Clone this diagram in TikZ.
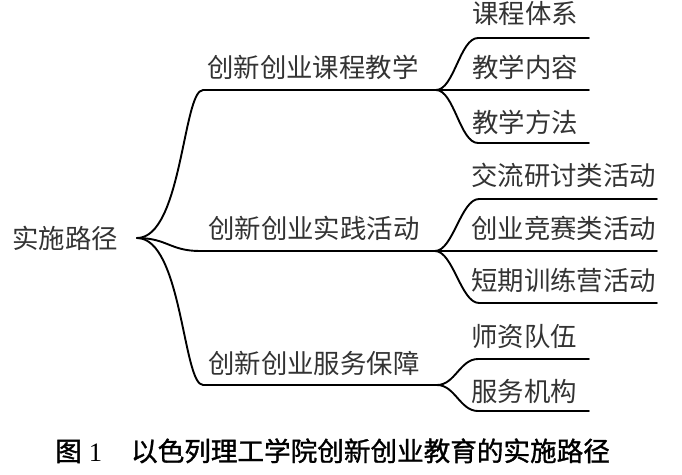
\documentclass[tikz,border=0pt]{standalone}
\usepackage{fontspec}
\setmainfont{Liberation Serif}
\newfontfamily\cjk{Noto Sans CJK SC}
\newfontfamily\cjkcap{Noto Sans CJK SC}[FakeBold=1.2]
\usetikzlibrary{positioning,calc}

\begin{document}
\begin{tikzpicture}[x=1pt,y=-1pt,
  every node/.style={inner sep=0pt, anchor=base west, text=black!80,
    font=\cjk\fontsize{26.4}{26.4}\selectfont},
  link/.style={line width=1.9pt, line cap=round}
]
  \useasboundingbox (0,0) rectangle (682,474);

  % root
  \node (root) at (12,248) {实施路径};
  \coordinate (r) at (137,238);

  % second level, text sits on the line
  \node (kc) at (207,77) {创新创业课程教学};
  \node (sj) at (208,238) {创新创业实践活动};
  \node (fw) at (208,373) {创新创业服务保障};

  \coordinate (kc-s) at (203,90);  \coordinate (kc-f) at (436,90);
  \coordinate (sj-s) at (200,251); \coordinate (sj-f) at (435,251);
  \coordinate (fw-s) at (203,385); \coordinate (fw-f) at (437,385);

  \draw[link] (r) .. controls +(45,0) and +(-20,0) .. (kc-s) -- (kc-f);
  \draw[link] (r) .. controls +(30,0) and +(-30,0) .. (sj-s) -- (sj-f);
  \draw[link] (r) .. controls +(45,0) and +(-20,0) .. (fw-s) -- (fw-f);

  % leaves of the first branch
  \foreach \i/\txt/\b/\y in {1/课程体系/23/38, 2/教学内容/77/90, 3/教学方法/132/143}{
    \node (kc-\i) at (472,\b) {\txt};
    \coordinate (kc-\i-s) at (478,\y);
    \coordinate (kc-\i-e) at (589,\y);
    \draw[link] (kc-f) .. controls +(18,0) and +(-18,0) .. (kc-\i-s) -- (kc-\i-e);
  }

  % leaves of the second branch
  \foreach \i/\txt/\b/\y in {1/交流研讨类活动/185/199, 2/创业竞赛类活动/238/251, 3/短期训练营活动/290/303}{
    \node (sj-\i) at (471,\b) {\txt};
    \coordinate (sj-\i-s) at (479,\y);
    \coordinate (sj-\i-e) at (657,\y);
    \draw[link] (sj-f) .. controls +(18,0) and +(-18,0) .. (sj-\i-s) -- (sj-\i-e);
  }

  % leaves of the third branch
  \foreach \i/\txt/\b/\y in {1/师资队伍/346/359, 2/服务机构/401/411}{
    \node (fw-\i) at (471,\b) {\txt};
    \coordinate (fw-\i-s) at (478,\y);
    \coordinate (fw-\i-e) at (589,\y);
    \draw[link] (fw-f) .. controls +(18,0) and +(-18,0) .. (fw-\i-s) -- (fw-\i-e);
  }

  % caption
  \node[text=black, font=\cjkcap\fontsize{26.6}{26.6}\selectfont] (cap) at (55,461)
    {图\hspace{7pt}{\rmfamily 1}\hspace{29pt}以色列理工学院创新创业教育的实施路径};
\end{tikzpicture}
\end{document}
